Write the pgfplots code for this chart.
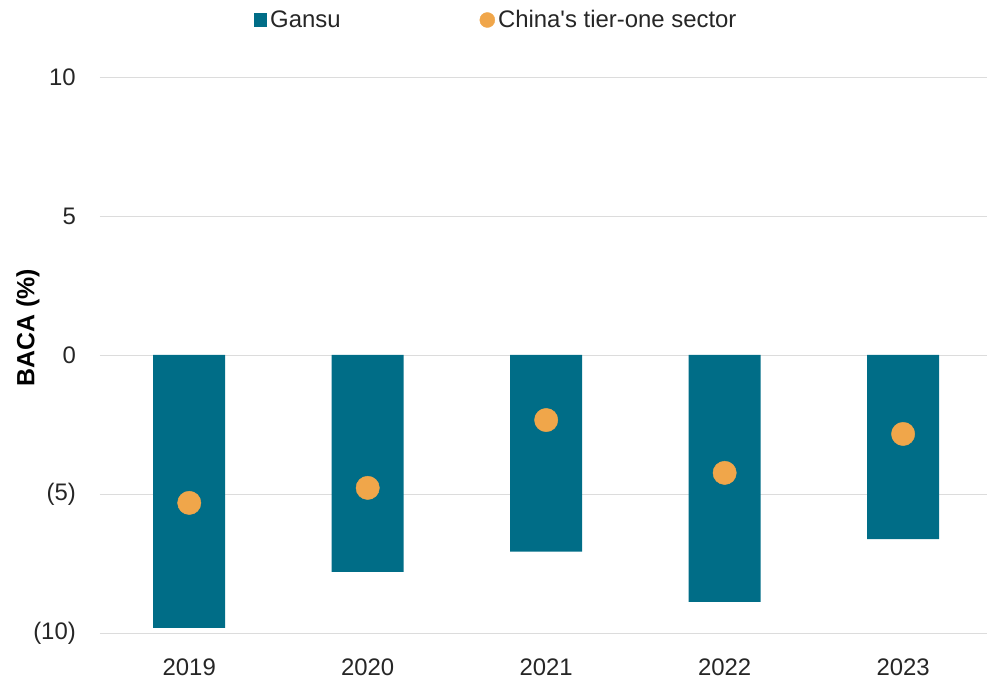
\documentclass[border=0pt]{standalone}
\usepackage{pgfplots}
\pgfplotsset{compat=1.18}
\usepackage{fontspec}
\setmainfont{Liberation Sans}

\definecolor{gansu}{HTML}{006D87}
\definecolor{tierone}{HTML}{F0A64A}
\definecolor{gridgray}{HTML}{DCDCDC}
\definecolor{txt}{HTML}{262626}

% straight apostrophe glyph, bypassing the TeX ligature mapping
\newcommand{\sq}{\XeTeXglyph\numexpr\XeTeXcharglyph"0027\relax}

\begin{document}
\begin{tikzpicture}
\begin{axis}[
  name=ax,
  scale only axis,
  width=887bp, height=556bp,
  xmin=-0.5, xmax=4.47,
  ymin=-10, ymax=10,
  axis line style={draw=none},
  tick style={draw=none},
  xtick={0,1,2,3,4},
  xticklabels={2019,2020,2021,2022,2023},
  ytick={-10,-5,0,5,10},
  yticklabels={(10),(5),0,5,10},
  ymajorgrids,
  grid style={gridgray, line width=0.8bp},
  /pgf/number format/assume math mode=true,
  tick label style={font=\fontsize{24}{28}\selectfont, text=txt},
  xticklabel style={inner sep=0pt, anchor=center, yshift=-34bp},
  yticklabel style={inner sep=0pt, anchor=east, xshift=-24bp},
  legend style={draw=none, fill=none, inner sep=0pt,
    at={(0.1736,1)}, anchor=west, yshift=57bp,
    font=\fontsize{24}{28}\selectfont, text=txt,
    nodes={inner sep=3bp},
    /tikz/every even column/.append style={column sep=136bp}},
  legend columns=2,
  clip=false,
]
\addplot[ybar, bar width=72bp, fill=gansu, draw=none,
  legend image code/.code={\fill[gansu] (0bp,-7bp) rectangle (13bp,7bp);}]
  coordinates {(0,-9.82) (1,-7.80) (2,-7.07) (3,-8.88) (4,-6.62)};
\addlegendentry{Gansu}
\addplot[only marks, mark=*, mark size=11.7bp, mark options={fill=tierone, draw=tierone},
  legend image code/.code={\fill[tierone] (7.5bp,0bp) circle (7.5bp);}]
  coordinates {(0,-5.32) (1,-4.78) (2,-2.34) (3,-4.24) (4,-2.84)};
\addlegendentry{China\sq s tier-one sector}
\end{axis}
\node[rotate=90, font=\fontsize{25}{29}\selectfont\bfseries, text=black, inner sep=0pt]
  at ([xshift=-72bp,yshift=305bp]ax.south west) {BACA (\%)};
\pgfresetboundingbox
\path ([xshift=-100bp,yshift=-48bp]ax.south west) rectangle ([yshift=77bp]ax.north east);
\end{tikzpicture}
\end{document}
